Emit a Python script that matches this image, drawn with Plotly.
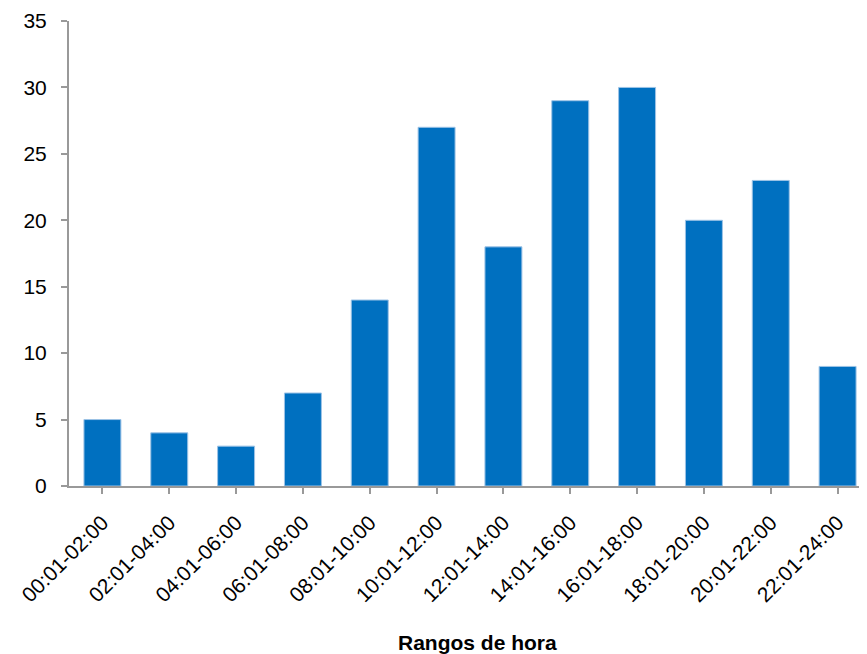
import plotly.graph_objects as go

BAR_COLOR = "#0070C0"
AXIS_COLOR = "#999999"

rangos = [
    "00:01-02:00", "02:01-04:00", "04:01-06:00", "06:01-08:00",
    "08:01-10:00", "10:01-12:00", "12:01-14:00", "14:01-16:00",
    "16:01-18:00", "18:01-20:00", "20:01-22:00", "22:01-24:00",
]
casos = [5, 4, 3, 7, 14, 27, 18, 29, 30, 20, 23, 9]
y_ticks = [0, 5, 10, 15, 20, 25, 30, 35]

# page body has an 8px margin, so the figure is 8px smaller than the window
fig = go.Figure(go.Bar(
    x=rangos,
    y=casos,
    marker=dict(color=BAR_COLOR, line=dict(color="#9DC3E6", width=1)),
))

fig.update_layout(
    width=859, height=646,
    plot_bgcolor="white",
    paper_bgcolor="white",
    bargap=0.447,
    showlegend=False,
    font=dict(family="Liberation Sans, Arial, sans-serif", size=21, color="#000000"),
    margin=dict(l=61, r=0, t=13, b=168),
    annotations=[dict(
        text="<b>Rangos de hora</b>",
        x=(477 - 8 - 61) / 798, xref="paper",
        y=-(634 - 478) / 465, yref="paper",
        yanchor="middle",
        showarrow=False,
        font=dict(family="Liberation Sans, Arial, sans-serif", size=21),
    )],
)

fig.update_xaxes(
    type="category",
    range=[-0.5, 11.44],
    tickangle=-45,
    ticklabelstandoff=8,
    showline=True, linecolor=AXIS_COLOR, linewidth=2,
    ticks="outside", ticklen=6, tickcolor=AXIS_COLOR, tickwidth=2,
    showgrid=False,
)
fig.update_yaxes(
    range=[0, 35],
    tickvals=y_ticks,
    ticklabelstandoff=10,
    showline=True, linecolor=AXIS_COLOR, linewidth=2,
    ticks="outside", ticklen=6, tickcolor=AXIS_COLOR, tickwidth=2,
    showgrid=False, zeroline=False,
)

fig.write_html("out.html")
